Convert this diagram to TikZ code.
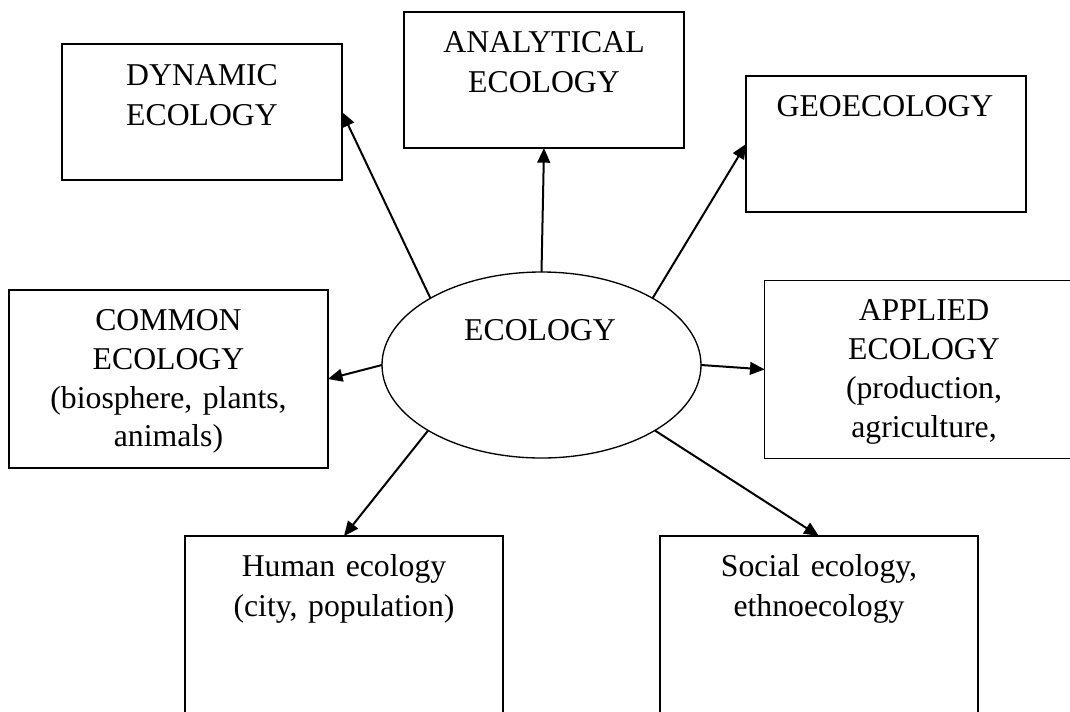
\documentclass[tikz,border=0pt]{standalone}
\usepackage{fontspec}
\setmainfont{Liberation Serif}
\usetikzlibrary{shapes.geometric,arrows.meta}
\begin{document}
\begin{tikzpicture}[x=0.75pt,y=-0.75pt,
  box/.style={draw, line width=1.4pt, rectangle, inner sep=0pt, outer sep=0pt},
  smallbox/.style={box, minimum width=210pt, minimum height=102pt},
  bigbox/.style={box, line width=1.2pt, minimum width=239pt, minimum height=133.5pt},
  txt/.style={anchor=base, inner sep=0pt, text width=300pt, align=center, font=\fontsize{23.8}{30}\selectfont},
  arr/.style={line width=1.5pt, -{Triangle[length=11pt,width=9.5pt]}}]
\useasboundingbox (0,0) rectangle (1070,711);
\clip (0,0) rectangle (1070,711);
% boxes
\node[smallbox] (dyn) at (202,112) {};
\node[smallbox] (ana) at (544,80) {};
\node[smallbox] (geo) at (886,144) {};
\node[bigbox] (com) at (168.5,379) {};
\node[bigbox] (app) at (924,369.4) {};
\node[box, line width=1.2pt, minimum width=238.5pt, minimum height=138pt] (hum) at (344,628) {};
\node[box, line width=1.2pt, minimum width=238.5pt, minimum height=138pt] (soc) at (818.8,628) {};
% ellipse
\node[draw, ellipse, line width=1pt, minimum width=239.25pt, minimum height=139.5pt, inner sep=0pt, outer sep=0pt] (eco) at (541.5,365) {};
% texts
\node[txt] (dyntext) at (202,85) {DYNAMIC\\ECOLOGY};
\node[txt] (anatext) at (544,52.7) {ANALYTICAL\\ECOLOGY};
\node[txt] (geotext) at (885,116.7) {GEOECOLOGY};
\node[txt, font=\fontsize{23.8}{29}\selectfont] (comtext) at (168.5,330.7) {COMMON\\ECOLOGY\\(biosphere, plants,\\animals)};
\node[txt, font=\fontsize{23.8}{29.3}\selectfont] (apptext) at (924,320) {APPLIED\\ECOLOGY\\(production,\\agriculture,};
\node[txt] (humtext) at (344,576) {Human ecology\\(city, population)};
\node[txt] (soctext) at (819,576) {Social ecology,\\ethnoecology};
\node[txt] (ecotext) at (540,340) {ECOLOGY};
% arrows
\draw[arr] (eco.149) -- (dyn.east);
\draw[arr] (eco.north) -- (ana.south);
\draw[arr] (eco.31) -- (geo.west);
\draw[arr] (eco.west) -- (com.east);
\draw[arr] (eco.east) -- (app.west);
\draw[arr] (eco.210.7) -- (hum.north);
\draw[arr] (eco.330.4) -- (soc.north);
\end{tikzpicture}
\end{document}
